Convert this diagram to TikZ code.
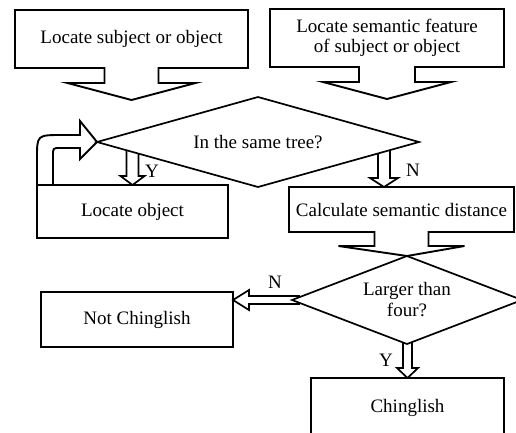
\documentclass[tikz,border=0pt]{standalone}
\usepackage{fontspec}
\setmainfont{Liberation Serif}
\usetikzlibrary{shapes.geometric,calc}

\tikzset{
  every node/.style={font=\fontsize{19}{20}\selectfont, outer sep=0pt},
  procbox/.style={rectangle, draw, line width=2pt},
  calloutbox/.style={rectangle, align=center},
  decision/.style={diamond, draw, fill=white, line width=1.7pt, inner sep=0pt, align=center},
  outline/.style={draw, line width=1.9pt, line join=miter},
  blockarrow/.style={draw, fill=white, line width=1.7pt},
  yn/.style={inner sep=0pt}
}

\begin{document}
\begin{tikzpicture}[x=1pt,y=-1pt]
  \clip (0,0) rectangle (516,432);
  % boxes
  \node[calloutbox, minimum width=233pt, minimum height=58pt] (locsub) at (131.5,39) {Locate subject or object};
  \node[calloutbox, minimum width=234pt, minimum height=58pt] (locsem) at (387,38) {Locate semantic feature\\of subject or object};
  \node[procbox, minimum width=191pt, minimum height=53pt] (locobj) at (132.5,211.5) {Locate object};
  \node[calloutbox, minimum width=225pt, minimum height=45pt] (semdist) at (401.5,209.5) {Calculate semantic distance};
  \node[procbox, minimum width=192pt, minimum height=55pt] (notch) at (137,319.5) {Not Chinglish};
  \node[procbox, minimum width=193pt, minimum height=60pt] (ching) at (407.5,408) {Chinglish};

  % Y / N arrows (tops hidden under the diamonds)
  \draw[blockarrow] (locobj.north) -- ++(12,-9) -- ++(-6,0) -- ++(0,-40) -- ++(-12,0) -- ++(0,40) -- ++(-6,0) -- cycle;
  \draw[blockarrow] ($(semdist.north west)+(95,0)$) -- ++(14,-9) -- ++(-8,0) -- ++(0,-40) -- ++(-12,0) -- ++(0,40) -- ++(-8,0) -- cycle;
  \draw[blockarrow] (ching.north) -- ++(10.5,-10) -- ++(-6,0) -- ++(0,-30) -- ++(-9,0) -- ++(0,30) -- ++(-6,0) -- cycle;
  \draw[blockarrow] (notch.east |- 0,300) -- ++(16,-10) -- ++(0,6) -- ++(50,0) -- ++(0,8) -- ++(-50,0) -- ++(0,6) -- cycle;

  % decisions
  \node[decision, aspect=3.58, minimum width=322pt, minimum height=90pt] (tree) at (258,142) {In the same tree?};
  \node[decision, aspect=2.6, minimum width=230pt, minimum height=88pt, font=\fontsize{19}{21}\selectfont] (four) at (407,300) {Larger than\\four?};

  \node[yn] (ytree) at (152,171) {Y};
  \node[yn] (ntree) at (413,170) {N};
  \node[yn] (nfour) at (275,282) {N};
  \node[yn] (yfour) at (386,360) {Y};

  % callout outlines
  \draw[outline] (locsub.south east) -- (locsub.north east) -- (locsub.north west) -- (locsub.south west)
    -- ($(locsub.south)+(-27,0)$) -- ++(0,15) -- ++(-37,0) -- ($(locsub.south)+(0,32)$) -- ++(64,-17) -- ++(-37,0) -- ++(0,-15) -- cycle;
  \draw[outline] (locsem.south east) -- (locsem.north east) -- (locsem.north west) -- (locsem.south west)
    -- ($(locsem.south)+(-28,0)$) -- ++(0,15) -- ++(-36,0) -- ($(locsem.south)+(0,32)$) -- ++(64,-17) -- ++(-36,0) -- ++(0,-15) -- cycle;
  \draw[outline] (semdist.south east) -- (semdist.north east) -- (semdist.north west) -- (semdist.south west)
    -- ($(semdist.south)+(-27,0)$) -- ++(0,14) -- ++(-36,0) -- (four.north) -- ($(semdist.south)+(63,14)$) -- ++(-36,0) -- ++(0,-14) -- cycle;

  % loop back to the tree test
  \draw[outline] (locobj.north west) -- (37,158) .. controls (37,135) .. (62,135) -- (80,135) -- (80,121)
    -- (tree.west) -- (80,159) -- (80,148) -- (60,148) .. controls (53,148) .. (53,156) -- (53,185);
\end{tikzpicture}
\end{document}
